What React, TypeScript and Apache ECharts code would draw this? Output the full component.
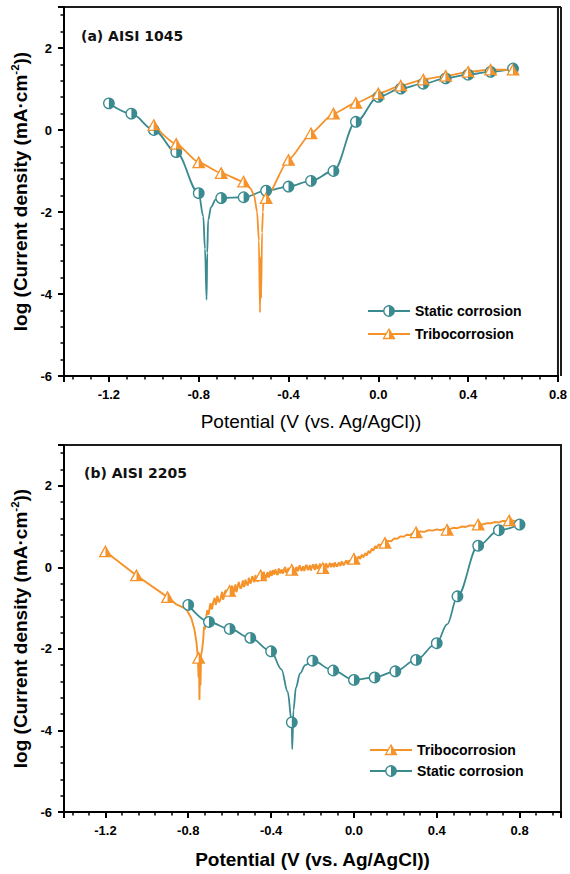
import React, { useEffect, useRef } from 'react';
import * as echarts from 'echarts';

// ---- axis tick values ----
const potentialTicks = [-1.2, -0.8, -0.4, 0, 0.4, 0.8];
const densityTicks = [-6, -4, -2, 0, 2];

// ---- (a) AISI 1045 ----
const a1045StaticX = [-1.2, -1.1, -1.0, -0.9, -0.8, -0.7, -0.6, -0.5, -0.4, -0.3, -0.2, -0.1, 0, 0.1, 0.2, 0.3, 0.4, 0.5, 0.6];
const a1045StaticY = [0.65, 0.4, 0, -0.54, -1.54, -1.66, -1.64, -1.48, -1.38, -1.24, -1.0, 0.2, 0.81, 1.01, 1.13, 1.26, 1.35, 1.42, 1.5];
// recorded points between markers around the corrosion potential
const a1045StaticDip = [[-0.78, -2.1], [-0.772, -2.9], [-0.765, -4.14], [-0.762, -3.0], [-0.758, -2.2], [-0.745, -1.88], [-0.725, -1.7]];

const a1045TriboX = [-1.0, -0.9, -0.8, -0.7, -0.6, -0.5, -0.4, -0.3, -0.2, -0.1, 0, 0.1, 0.2, 0.3, 0.4, 0.5, 0.6];
const a1045TriboY = [0.12, -0.34, -0.79, -1.05, -1.26, -1.66, -0.73, -0.08, 0.4, 0.66, 0.89, 1.08, 1.23, 1.32, 1.42, 1.47, 1.47];
const a1045TriboDip = [[-0.57, -1.42], [-0.553, -1.6], [-0.54, -2.0], [-0.532, -2.7], [-0.527, -4.45], [-0.524, -3.1], [-0.522, -4.1], [-0.518, -2.5], [-0.514, -2.0], [-0.51, -1.45], [-0.505, -1.75]];

// ---- (b) AISI 2205 ----
const b2205StaticX = [-0.8, -0.7, -0.6, -0.5, -0.4, -0.3, -0.2, -0.1, 0, 0.1, 0.2, 0.3, 0.4, 0.5, 0.6, 0.7, 0.8];
const b2205StaticY = [-0.92, -1.34, -1.51, -1.73, -2.06, -3.8, -2.29, -2.53, -2.76, -2.7, -2.55, -2.27, -1.86, -0.71, 0.53, 0.91, 1.05];
const b2205StaticDip = [[-0.35, -2.5], [-0.32, -3.05], [-0.298, -4.46], [-0.292, -3.5], [-0.28, -2.95], [-0.26, -2.6], [-0.235, -2.4], [0.45, -1.4]];

const b2205TriboX = [-1.2, -1.05, -0.9, -0.75, -0.6, -0.45, -0.3, -0.15, 0, 0.15, 0.3, 0.45, 0.6, 0.75];
const b2205TriboY = [0.39, -0.2, -0.73, -2.22, -0.58, -0.2, -0.06, -0.02, 0.21, 0.6, 0.86, 0.92, 1.05, 1.15];
const b2205TriboDip = [[-0.86, -0.9], [-0.81, -1.02], [-0.785, -1.25], [-0.77, -1.53], [-0.76, -1.85], [-0.754, -2.2], [-0.75, -2.7], [-0.748, -2.1], [-0.746, -3.25], [-0.743, -2.4], [-0.741, -2.9], [-0.738, -2.15], [-0.734, -2.05]];
// anodic branch as recorded (noisy), two interleaved sample sets
const b2205TriboScan = [
  [-0.728, -1.8], [-0.72, -1.52], [-0.712, -1.17], [-0.704, -1.16], [-0.696, -0.95], [-0.688, -1.03], [-0.68, -0.86], [-0.672, -0.75],
  [-0.664, -0.87], [-0.656, -0.76], [-0.648, -0.83], [-0.64, -0.66], [-0.632, -0.79], [-0.624, -0.63], [-0.616, -0.58], [-0.608, -0.66],
  [-0.6, -0.67], [-0.592, -0.49], [-0.584, -0.58], [-0.576, -0.49], [-0.568, -0.61], [-0.56, -0.44], [-0.552, -0.45], [-0.544, -0.5],
  [-0.536, -0.32], [-0.528, -0.46], [-0.52, -0.37], [-0.512, -0.45], [-0.504, -0.3], [-0.496, -0.36], [-0.488, -0.24], [-0.48, -0.36],
  [-0.472, -0.27], [-0.464, -0.35], [-0.456, -0.2], [-0.448, -0.15], [-0.44, -0.24], [-0.432, -0.18], [-0.424, -0.27], [-0.416, -0.12],
  [-0.408, -0.21], [-0.4, -0.19], [-0.392, -0.07], [-0.384, -0.18], [-0.376, -0.1], [-0.368, -0.19], [-0.36, -0.06], [-0.352, -0.09],
  [-0.344, -0.15], [-0.336, -0.03], [-0.328, -0.13], [-0.32, -0.06], [-0.312, -0.14], [-0.304, -0.01], [-0.296, -0.09], [-0.288, -0.12],
  [-0.28, -0.02], [-0.272, -0.1], [-0.264, 0.03], [-0.256, -0.07], [-0.248, -0.01], [-0.24, -0.09], [-0.232, 0.04], [-0.224, -0.05],
  [-0.216, 0.02], [-0.208, -0.08], [-0.2, 0.05], [-0.192, -0.03], [-0.184, 0.08], [-0.176, -0.04], [-0.168, 0.03], [-0.16, -0.05],
  [-0.152, 0.07], [-0.144, 0.0], [-0.136, 0.09], [-0.128, -0.02], [-0.12, 0.06], [-0.112, 0.01], [-0.104, 0.1], [-0.096, 0.0],
  [-0.088, 0.08], [-0.08, 0.03], [-0.072, 0.12], [-0.064, 0.04], [-0.056, 0.13], [-0.048, 0.05], [-0.04, 0.15], [-0.032, 0.08],
  [-0.024, 0.17], [-0.016, 0.11], [-0.008, 0.19], [0.0, 0.14], [0.008, 0.22], [0.016, 0.18], [0.024, 0.27], [0.032, 0.22],
  [0.04, 0.31], [0.048, 0.26], [0.056, 0.35], [0.064, 0.3], [0.072, 0.4], [0.08, 0.37], [0.088, 0.46], [0.096, 0.43],
  [0.104, 0.52], [0.112, 0.49], [0.12, 0.56], [0.13, 0.54], [0.14, 0.61], [0.15, 0.59], [0.165, 0.65], [0.18, 0.64],
  [0.195, 0.71], [0.21, 0.7], [0.225, 0.76], [0.24, 0.75], [0.255, 0.8], [0.27, 0.79], [0.285, 0.84], [0.3, 0.83],
  [0.32, 0.88], [0.34, 0.87], [0.36, 0.91], [0.38, 0.9], [0.4, 0.93], [0.42, 0.91], [0.44, 0.95], [0.46, 0.93],
  [0.48, 0.97], [0.5, 0.96], [0.52, 1.0], [0.54, 0.99], [0.56, 1.03], [0.58, 1.02], [0.6, 1.06], [0.62, 1.05],
  [0.64, 1.08], [0.66, 1.08], [0.68, 1.11], [0.7, 1.1], [0.72, 1.14], [0.74, 1.13], [0.76, 1.15], [0.78, 1.14], [0.8, 1.16],
];
const b2205TriboScanB = [
  [-0.724, -1.45], [-0.716, -1.4], [-0.708, -1.05], [-0.7, -1.12], [-0.692, -0.88], [-0.684, -1.0], [-0.676, -0.8], [-0.668, -0.92],
  [-0.66, -0.7], [-0.652, -0.85], [-0.644, -0.78], [-0.636, -0.6], [-0.628, -0.74], [-0.62, -0.56], [-0.612, -0.7], [-0.604, -0.52],
  [-0.596, -0.64], [-0.588, -0.45], [-0.58, -0.62], [-0.572, -0.42], [-0.564, -0.55], [-0.556, -0.36], [-0.548, -0.52], [-0.54, -0.4],
  [-0.532, -0.48], [-0.524, -0.3], [-0.516, -0.41], [-0.508, -0.26], [-0.5, -0.4], [-0.492, -0.22], [-0.484, -0.33], [-0.476, -0.19],
  [-0.468, -0.32], [-0.46, -0.25], [-0.452, -0.12], [-0.444, -0.26], [-0.436, -0.11], [-0.428, -0.22], [-0.42, -0.16], [-0.412, -0.25],
  [-0.404, -0.08], [-0.396, -0.2], [-0.388, -0.12], [-0.38, -0.05], [-0.372, -0.16], [-0.364, -0.03], [-0.356, -0.15], [-0.348, -0.05],
  [-0.34, -0.12], [-0.332, 0.01], [-0.324, -0.1], [-0.316, -0.01], [-0.308, -0.11], [-0.3, 0.02], [-0.292, -0.06], [-0.284, -0.13],
  [-0.276, 0.01], [-0.268, -0.06], [-0.26, 0.04], [-0.252, -0.08], [-0.244, 0.03], [-0.236, -0.04], [-0.228, 0.06], [-0.22, -0.06],
  [-0.212, 0.05], [-0.204, -0.02], [-0.196, 0.07], [-0.188, -0.06], [-0.18, 0.05], [-0.172, 0.0], [-0.164, 0.09], [-0.156, -0.03],
  [-0.148, 0.05], [-0.14, -0.03], [-0.132, 0.08], [-0.124, 0.02], [-0.116, 0.11], [-0.108, 0.02], [-0.1, 0.07], [-0.092, 0.12],
  [-0.084, 0.02], [-0.076, 0.09], [-0.068, 0.06], [-0.06, 0.14], [-0.052, 0.07], [-0.044, 0.11], [-0.036, 0.17], [-0.028, 0.1],
  [-0.02, 0.15], [-0.012, 0.2], [-0.004, 0.13], [0.004, 0.2], [0.012, 0.16], [0.02, 0.24], [0.028, 0.21], [0.036, 0.29],
  [0.044, 0.25], [0.052, 0.32], [0.06, 0.3], [0.068, 0.38], [0.076, 0.35], [0.084, 0.43], [0.092, 0.41], [0.1, 0.49],
  [0.108, 0.46], [0.116, 0.54],
];

const TEAL = '#3a8a90';
const ORANGE = '#f5922a';
const FRAME = '#1c1c1c';
const FONT = '"Liberation Sans", Arial, sans-serif';

// plot areas (left, top, width, height in px)
const PLOT_A = { left: 64, top: 7, width: 497, height: 369 };
const PLOT_B = { left: 64, top: 445, width: 497, height: 367 };

const HALF_CIRCLE = 'path://M-1,-1 M1,1 M0,-1 A1,1 0 0,1 0,1 Z';
const HALF_TRIANGLE = 'path://M-1,-1 M1,1 M0,-1 L1,1 L0,1 Z';

const pairs = (xs: number[], ys: number[]) => xs.map((x, i) => [x, ys[i]]);
const sorted = (pts: number[][]) => pts.slice().sort((a, b) => a[0] - b[0]);

function lineSeries(idx: number, data: number[][], color: string, smooth: number, width = 1.8) {
  return {
    type: 'line', xAxisIndex: idx, yAxisIndex: idx, data,
    smooth, smoothMonotone: 'x', showSymbol: false, symbol: 'none',
    lineStyle: { color, width }, silent: true, z: 2,
  };
}

function markerSeries(idx: number, data: number[][], kind: 'circle' | 'triangle', color: string) {
  const size = kind === 'circle' ? 10.5 : [11.5, 10.5];
  return [
    {
      type: 'scatter', xAxisIndex: idx, yAxisIndex: idx, data, symbol: kind, symbolSize: size,
      itemStyle: { color: '#ffffff', borderColor: color, borderWidth: 1.3, opacity: 1 }, silent: true, z: 3,
    },
    {
      type: 'scatter', xAxisIndex: idx, yAxisIndex: idx, data,
      symbol: kind === 'circle' ? HALF_CIRCLE : HALF_TRIANGLE, symbolSize: size,
      itemStyle: { color, opacity: 1 }, silent: true, z: 4,
    },
  ];
}

const isTick = (list: number[], v: number) => list.some((t) => Math.abs(t - v) < 1e-6);

function xAxis(idx: number, max: number, nameGap: number, nameWeight: string) {
  return {
    type: 'value', gridIndex: idx, min: -1.4, max, minInterval: 0.4, maxInterval: 0.4,
    name: 'Potential (V (vs. Ag/AgCl))', nameLocation: 'middle', nameGap,
    nameTextStyle: { fontSize: 19, fontWeight: nameWeight, fontFamily: FONT, color: '#000' },
    axisLine: { show: true, onZero: false, lineStyle: { color: '#000', width: 2 } },
    axisTick: { show: true, inside: false, length: 6, lineStyle: { color: '#000', width: 2 } },
    minorTick: { show: true, splitNumber: 5, length: 3.5, lineStyle: { color: '#000', width: 1.5 } },
    axisLabel: {
      margin: 12, fontSize: 13, fontWeight: 'bold', fontFamily: FONT, color: '#000',
      formatter: (v: number) => (isTick(potentialTicks, v) ? (Math.abs(v) < 1e-9 ? 0 : v).toFixed(1) : ''),
    },
    splitLine: { show: false }, minorSplitLine: { show: false },
  };
}

function yAxis(idx: number) {
  return {
    type: 'value', gridIndex: idx, min: -6, max: 3, minInterval: 2, maxInterval: 2,
    name: '{a|log (Current density (mA·cm}{s|-2}{a|))}', nameLocation: 'middle', nameGap: 31,
    nameTextStyle: {
      color: '#000',
      rich: {
        a: { fontSize: 19, fontWeight: 'bold', fontFamily: FONT, color: '#000', lineHeight: 23 },
        s: { fontSize: 11.5, fontWeight: 'bold', fontFamily: FONT, color: '#000', verticalAlign: 'top' },
      },
    },
    axisLine: { show: true, onZero: false, lineStyle: { color: '#000', width: 2 } },
    axisTick: { show: true, inside: false, length: 6, lineStyle: { color: '#000', width: 2 } },
    minorTick: { show: true, splitNumber: 5, length: 3.5, lineStyle: { color: '#000', width: 1.5 } },
    axisLabel: {
      margin: 12, fontSize: 13, fontWeight: 'bold', fontFamily: FONT, color: '#000',
      formatter: (v: number) => (isTick(densityTicks, v) ? String(Math.round(v)) : ''),
    },
    splitLine: { show: false }, minorSplitLine: { show: false },
  };
}

// top and right edges of a plot box
function frameEdges(p: { left: number; top: number; width: number; height: number }) {
  const r = p.left + p.width;
  const b = p.top + p.height;
  return [
    { type: 'line', shape: { x1: p.left, y1: p.top, x2: r, y2: p.top }, style: { stroke: FRAME, lineWidth: 2 } },
    { type: 'line', shape: { x1: r, y1: p.top, x2: r, y2: b }, style: { stroke: FRAME, lineWidth: 2 } },
  ];
}

function legendRow(x: number, y: number, color: string, kind: 'circle' | 'triangle', text: string) {
  const cx = x + 21;
  const marker =
    kind === 'circle'
      ? [
          { type: 'circle', shape: { cx, cy: y, r: 5.2 }, style: { fill: '#fff', stroke: color, lineWidth: 1.3 } },
          { type: 'sector', shape: { cx, cy: y, r: 5.2, r0: 0, startAngle: -Math.PI / 2, endAngle: Math.PI / 2, clockwise: true }, style: { fill: color } },
        ]
      : [
          { type: 'polygon', shape: { points: [[cx, y - 5], [cx + 5.5, y + 4.5], [cx - 5.5, y + 4.5]] }, style: { fill: '#fff', stroke: color, lineWidth: 1.3 } },
          { type: 'polygon', shape: { points: [[cx, y - 5], [cx + 5.5, y + 4.5], [cx, y + 4.5]] }, style: { fill: color } },
        ];
  return [
    { type: 'line', shape: { x1: x, y1: y, x2: x + 42, y2: y }, style: { stroke: color, lineWidth: 2 } },
    ...marker,
    {
      type: 'text', x: x + 47, y,
      style: { text, fontSize: 14, fontWeight: 'bold', fontFamily: FONT, fill: '#000', verticalAlign: 'middle' },
    },
  ];
}

function panelLabel(x: number, y: number, text: string) {
  return {
    type: 'text', x, y,
    style: { text, fontSize: 14, fontWeight: 'bold', fontFamily: '"DejaVu Sans", sans-serif', fill: '#111', verticalAlign: 'middle' },
  };
}

export default function App() {
  const ref = useRef<HTMLDivElement>(null);

  useEffect(() => {
    document.body.style.margin = '0';
    if (!ref.current) return;
    const chart = echarts.init(ref.current, undefined, { renderer: 'svg' });

    const aStatic = pairs(a1045StaticX, a1045StaticY);
    const aTribo = pairs(a1045TriboX, a1045TriboY);
    const bStatic = pairs(b2205StaticX, b2205StaticY);
    const bTribo = pairs(b2205TriboX, b2205TriboY);
    const bTriboTrace = bTribo
      .filter((p) => p[0] <= -0.9)
      .concat(b2205TriboDip, sorted(b2205TriboScan.concat(b2205TriboScanB)));

    const border = { show: true, borderColor: FRAME, borderWidth: 2 };

    chart.setOption({
      animation: false,
      backgroundColor: '#fff',
      grid: [{ ...PLOT_A, ...border }, { ...PLOT_B, ...border }],
      xAxis: [xAxis(0, 0.8, 36, 'normal'), xAxis(1, 1.0, 38, 'bold')],
      yAxis: [yAxis(0), yAxis(1)],
      series: [
        lineSeries(0, sorted(aStatic.concat(a1045StaticDip)), TEAL, 0.35),
        lineSeries(0, sorted(aTribo.concat(a1045TriboDip)), ORANGE, 0.2),
        ...markerSeries(0, aStatic, 'circle', TEAL),
        ...markerSeries(0, aTribo, 'triangle', ORANGE),
        lineSeries(1, sorted(bStatic.concat(b2205StaticDip)), TEAL, 0.35),
        lineSeries(1, bTriboTrace, ORANGE, 0, 1.9),
        ...markerSeries(1, bStatic, 'circle', TEAL),
        ...markerSeries(1, bTribo, 'triangle', ORANGE),
      ],
      graphic: [
        ...frameEdges(PLOT_A),
        ...frameEdges(PLOT_B),
        panelLabel(81, 36, '(a) AISI 1045'),
        panelLabel(84, 473, '(b) AISI 2205'),
        ...legendRow(368, 311, TEAL, 'circle', 'Static corrosion'),
        ...legendRow(368, 334, ORANGE, 'triangle', 'Tribocorrosion'),
        ...legendRow(370, 750, ORANGE, 'triangle', 'Tribocorrosion'),
        ...legendRow(370, 771, TEAL, 'circle', 'Static corrosion'),
      ],
    });

    return () => chart.dispose();
  }, []);

  return <div ref={ref} style={{ width: 570, height: 874 }} />;
}
